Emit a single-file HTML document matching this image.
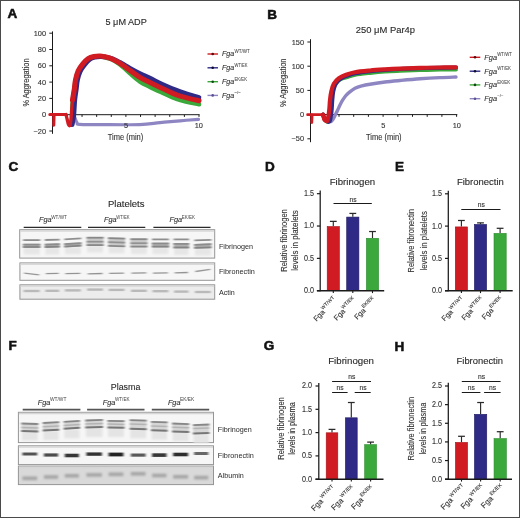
<!DOCTYPE html>
<html><head><meta charset="utf-8"><style>
html,body{margin:0;padding:0;background:#fff;}
svg{display:block;filter:blur(0.3px);}
text{font-family:"Liberation Sans", sans-serif;}
</style></head><body>
<svg width="520" height="518" viewBox="0 0 520 518" font-family='"Liberation Sans", sans-serif' fill="#2a2a2a">
<defs>
<filter id="b1" x="-20%" y="-200%" width="140%" height="500%"><feGaussianBlur stdDeviation="0.55"/></filter>
<filter id="b2" x="-20%" y="-200%" width="140%" height="500%"><feGaussianBlur stdDeviation="1.1"/></filter>
<filter id="b3" x="-20%" y="-200%" width="140%" height="500%"><feGaussianBlur stdDeviation="1.0 0.6"/></filter>
</defs>
<rect x="0" y="0" width="520" height="518" fill="#fff"/>
<text x="7.40" y="18.25" font-size="13.5" font-weight="bold" fill="#111" stroke="#111" stroke-width="0.55">A</text>
<text x="105.50" y="24.80" font-size="8.8" stroke="#2a2a2a" stroke-width="0.12" textLength="41.3" lengthAdjust="spacingAndGlyphs">5 μM ADP</text>
<line x1="52.50" y1="31.40" x2="52.50" y2="133.80" stroke="#1a1a1a" stroke-width="1"/>
<line x1="49.30" y1="131.00" x2="52.50" y2="131.00" stroke="#1a1a1a" stroke-width="1"/>
<text x="46.00" y="133.60" font-size="7.4" text-anchor="end" fill="#333" stroke="#333" stroke-width="0.12">−20</text>
<line x1="49.30" y1="114.70" x2="52.50" y2="114.70" stroke="#1a1a1a" stroke-width="1"/>
<text x="46.00" y="117.30" font-size="7.4" text-anchor="end" fill="#333" stroke="#333" stroke-width="0.12">0</text>
<line x1="49.30" y1="98.40" x2="52.50" y2="98.40" stroke="#1a1a1a" stroke-width="1"/>
<text x="46.00" y="101.00" font-size="7.4" text-anchor="end" fill="#333" stroke="#333" stroke-width="0.12">20</text>
<line x1="49.30" y1="82.10" x2="52.50" y2="82.10" stroke="#1a1a1a" stroke-width="1"/>
<text x="46.00" y="84.70" font-size="7.4" text-anchor="end" fill="#333" stroke="#333" stroke-width="0.12">40</text>
<line x1="49.30" y1="65.80" x2="52.50" y2="65.80" stroke="#1a1a1a" stroke-width="1"/>
<text x="46.00" y="68.40" font-size="7.4" text-anchor="end" fill="#333" stroke="#333" stroke-width="0.12">60</text>
<line x1="49.30" y1="49.50" x2="52.50" y2="49.50" stroke="#1a1a1a" stroke-width="1"/>
<text x="46.00" y="52.10" font-size="7.4" text-anchor="end" fill="#333" stroke="#333" stroke-width="0.12">80</text>
<line x1="49.30" y1="33.20" x2="52.50" y2="33.20" stroke="#1a1a1a" stroke-width="1"/>
<text x="46.00" y="35.80" font-size="7.4" text-anchor="end" fill="#333" stroke="#333" stroke-width="0.12">100</text>
<line x1="52.50" y1="114.70" x2="199.60" y2="114.70" stroke="#1a1a1a" stroke-width="1"/>
<line x1="67.42" y1="114.70" x2="67.42" y2="116.90" stroke="#1a1a1a" stroke-width="1"/>
<line x1="82.04" y1="114.70" x2="82.04" y2="116.90" stroke="#1a1a1a" stroke-width="1"/>
<line x1="96.66" y1="114.70" x2="96.66" y2="116.90" stroke="#1a1a1a" stroke-width="1"/>
<line x1="111.28" y1="114.70" x2="111.28" y2="116.90" stroke="#1a1a1a" stroke-width="1"/>
<line x1="125.90" y1="114.70" x2="125.90" y2="116.90" stroke="#1a1a1a" stroke-width="1"/>
<line x1="140.52" y1="114.70" x2="140.52" y2="116.90" stroke="#1a1a1a" stroke-width="1"/>
<line x1="155.14" y1="114.70" x2="155.14" y2="116.90" stroke="#1a1a1a" stroke-width="1"/>
<line x1="169.76" y1="114.70" x2="169.76" y2="116.90" stroke="#1a1a1a" stroke-width="1"/>
<line x1="184.38" y1="114.70" x2="184.38" y2="116.90" stroke="#1a1a1a" stroke-width="1"/>
<line x1="199.00" y1="114.70" x2="199.00" y2="116.90" stroke="#1a1a1a" stroke-width="1"/>
<text x="125.50" y="140.20" font-size="8.2" text-anchor="middle" fill="#333" stroke="#333" stroke-width="0.12" textLength="35.5" lengthAdjust="spacingAndGlyphs">Time (min)</text>
<text x="28.90" y="82.50" font-size="8.2" text-anchor="middle" fill="#333" stroke="#333" stroke-width="0.12" textLength="48" lengthAdjust="spacingAndGlyphs" transform="rotate(-90 28.90 82.50)">% Aggregation</text>
<path d="M73.60,113.50 C73.87,114.33 74.63,116.98 75.20,118.50 C75.77,120.02 76.28,121.62 77.00,122.60 C77.72,123.58 75.67,124.07 79.50,124.40 C83.33,124.73 89.98,124.57 100.00,124.60 C110.02,124.63 129.60,124.93 139.60,124.60 C149.60,124.27 153.27,123.23 160.00,122.60 C166.73,121.97 173.58,121.35 180.00,120.80 C186.42,120.25 195.42,119.55 198.50,119.30" fill="none" stroke="#8e86c2" stroke-width="3.2" stroke-linejoin="round" stroke-linecap="round"/>
<path d="M72.20,112.00 C72.32,110.00 72.52,103.83 72.90,100.00 C73.28,96.17 74.02,92.33 74.50,89.00 C74.98,85.67 75.13,82.97 75.80,80.00 C76.47,77.03 77.30,73.83 78.50,71.20 C79.70,68.57 81.33,66.23 83.00,64.20 C84.67,62.17 86.67,60.23 88.50,59.00 C90.33,57.77 92.08,57.23 94.00,56.80 C95.92,56.37 98.17,56.35 100.00,56.40 C101.83,56.45 103.33,56.73 105.00,57.10 C106.67,57.47 108.33,57.95 110.00,58.60 C111.67,59.25 113.33,60.03 115.00,61.00 C116.67,61.97 118.33,63.13 120.00,64.40 C121.67,65.67 123.33,67.12 125.00,68.60 C126.67,70.08 127.50,71.13 130.00,73.30 C132.50,75.47 136.67,79.35 140.00,81.60 C143.33,83.85 146.17,84.93 150.00,86.80 C153.83,88.67 158.58,90.80 163.00,92.80 C167.42,94.80 172.33,97.28 176.50,98.80 C180.67,100.32 184.25,101.00 188.00,101.90 C191.75,102.80 197.17,103.82 199.00,104.20" fill="none" stroke="#3aa83a" stroke-width="4.7" stroke-linejoin="round" stroke-linecap="round"/>
<path d="M72.20,124.50 C72.47,122.92 73.37,119.08 73.80,115.00 C74.23,110.92 74.40,104.17 74.80,100.00 C75.20,95.83 75.75,93.33 76.20,90.00 C76.65,86.67 76.83,83.08 77.50,80.00 C78.17,76.92 78.98,74.07 80.20,71.50 C81.42,68.93 83.20,66.63 84.80,64.60 C86.40,62.57 88.10,60.53 89.80,59.30 C91.50,58.07 93.30,57.65 95.00,57.20 C96.70,56.75 98.33,56.63 100.00,56.60 C101.67,56.57 103.33,56.78 105.00,57.00 C106.67,57.22 108.33,57.43 110.00,57.90 C111.67,58.37 113.33,59.05 115.00,59.80 C116.67,60.55 118.33,61.48 120.00,62.40 C121.67,63.32 123.33,64.32 125.00,65.30 C126.67,66.28 127.50,66.92 130.00,68.30 C132.50,69.68 136.67,71.95 140.00,73.60 C143.33,75.25 146.17,76.37 150.00,78.20 C153.83,80.03 158.58,82.58 163.00,84.60 C167.42,86.62 172.33,88.70 176.50,90.30 C180.67,91.90 184.25,92.98 188.00,94.20 C191.75,95.42 197.17,97.03 199.00,97.60" fill="none" stroke="#2f2a86" stroke-width="4.7" stroke-linejoin="round" stroke-linecap="round"/>
<path d="M70.50,124.00 C70.78,124.17 71.68,126.00 72.20,125.00 C72.72,124.00 73.25,120.17 73.60,118.00 C73.95,115.83 74.18,113.00 74.30,112.00" fill="none" stroke="#2f2a86" stroke-width="3.2" stroke-linejoin="round" stroke-linecap="round"/>
<path d="M72.50,100.00 C72.78,98.33 73.70,93.33 74.20,90.00 C74.70,86.67 74.83,83.20 75.50,80.00 C76.17,76.80 76.98,73.50 78.20,70.80 C79.42,68.10 81.13,65.83 82.80,63.80 C84.47,61.77 86.33,59.82 88.20,58.60 C90.07,57.38 92.03,56.93 94.00,56.50 C95.97,56.07 98.17,55.95 100.00,56.00 C101.83,56.05 103.33,56.43 105.00,56.80 C106.67,57.17 108.33,57.60 110.00,58.20 C111.67,58.80 113.33,59.55 115.00,60.40 C116.67,61.25 118.33,62.23 120.00,63.30 C121.67,64.37 123.33,65.62 125.00,66.80 C126.67,67.98 127.50,68.63 130.00,70.40 C132.50,72.17 136.67,75.38 140.00,77.40 C143.33,79.42 146.17,80.60 150.00,82.50 C153.83,84.40 158.58,86.73 163.00,88.80 C167.42,90.87 172.33,93.35 176.50,94.90 C180.67,96.45 184.25,97.13 188.00,98.10 C191.75,99.07 197.17,100.27 199.00,100.70" fill="none" stroke="#d01b22" stroke-width="5.1" stroke-linejoin="round" stroke-linecap="round"/>
<path d="M66.00,114.50 C66.20,115.33 66.80,117.85 67.20,119.50 C67.60,121.15 67.90,123.48 68.40,124.40 C68.90,125.32 69.72,126.57 70.20,125.00 C70.68,123.43 71.00,118.17 71.30,115.00 C71.60,111.83 71.77,108.75 72.00,106.00 C72.23,103.25 72.58,99.75 72.70,98.50" fill="none" stroke="#d01b22" stroke-width="3.3" stroke-linejoin="round" stroke-linecap="round"/>
<path d="M49.80,114.50 L53.80,114.50 L53.80,125.20 L54.10,114.50 L66.00,114.50" fill="none" stroke="#d01b22" stroke-width="3.0" stroke-linejoin="round" stroke-linecap="round"/>
<text x="126.00" y="127.80" font-size="7.4" text-anchor="middle" fill="#333" stroke="#333" stroke-width="0.12">5</text>
<text x="198.80" y="127.80" font-size="7.4" text-anchor="middle" fill="#333" stroke="#333" stroke-width="0.12">10</text>
<line x1="207.50" y1="54.00" x2="218.00" y2="54.00" stroke="#d01b22" stroke-width="1.4"/>
<circle cx="212.7" cy="54.0" r="1.3" fill="#5a0808"/>
<text x="222.00" y="56.30" font-size="7.1" font-style="italic" fill="#333" stroke="#333" stroke-width="0.12">Fga</text>
<text x="234.50" y="52.80" font-size="4.9" fill="#444" stroke="#444" stroke-width="0.05" textLength="15.3" lengthAdjust="spacingAndGlyphs">WT/WT</text>
<line x1="207.50" y1="67.80" x2="218.00" y2="67.80" stroke="#2f2a86" stroke-width="1.4"/>
<circle cx="212.7" cy="67.8" r="1.3" fill="#0c0c30"/>
<text x="222.00" y="70.10" font-size="7.1" font-style="italic" fill="#333" stroke="#333" stroke-width="0.12">Fga</text>
<text x="234.50" y="66.60" font-size="4.9" fill="#444" stroke="#444" stroke-width="0.05" textLength="13.1" lengthAdjust="spacingAndGlyphs">WT/EK</text>
<line x1="207.50" y1="81.70" x2="218.00" y2="81.70" stroke="#3aa83a" stroke-width="1.4"/>
<circle cx="212.7" cy="81.7" r="1.3" fill="#124812"/>
<text x="222.00" y="84.00" font-size="7.1" font-style="italic" fill="#333" stroke="#333" stroke-width="0.12">Fga</text>
<text x="234.50" y="80.50" font-size="4.9" fill="#444" stroke="#444" stroke-width="0.05" textLength="12.5" lengthAdjust="spacingAndGlyphs">EK/EK</text>
<line x1="207.50" y1="95.40" x2="218.00" y2="95.40" stroke="#8e86c2" stroke-width="1.4"/>
<circle cx="212.7" cy="95.4" r="1.3" fill="#5a5290"/>
<text x="222.00" y="97.70" font-size="7.1" font-style="italic" fill="#333" stroke="#333" stroke-width="0.12">Fga</text>
<text x="234.50" y="94.20" font-size="4.4" fill="#444" stroke="#444" stroke-width="0.05">−/−</text>
<text x="267.20" y="18.55" font-size="13.5" font-weight="bold" fill="#111" stroke="#111" stroke-width="0.55">B</text>
<text x="355.80" y="32.70" font-size="9.0" stroke="#2a2a2a" stroke-width="0.12" textLength="59.2" lengthAdjust="spacingAndGlyphs">250 μM Par4p</text>
<line x1="310.50" y1="39.20" x2="310.50" y2="142.20" stroke="#1a1a1a" stroke-width="1"/>
<line x1="307.40" y1="138.80" x2="310.50" y2="138.80" stroke="#1a1a1a" stroke-width="1"/>
<text x="304.00" y="141.40" font-size="7.4" text-anchor="end" fill="#333" stroke="#333" stroke-width="0.12">−50</text>
<line x1="307.40" y1="114.60" x2="310.50" y2="114.60" stroke="#1a1a1a" stroke-width="1"/>
<text x="304.00" y="117.20" font-size="7.4" text-anchor="end" fill="#333" stroke="#333" stroke-width="0.12">0</text>
<line x1="307.40" y1="90.40" x2="310.50" y2="90.40" stroke="#1a1a1a" stroke-width="1"/>
<text x="304.00" y="93.00" font-size="7.4" text-anchor="end" fill="#333" stroke="#333" stroke-width="0.12">50</text>
<line x1="307.40" y1="66.20" x2="310.50" y2="66.20" stroke="#1a1a1a" stroke-width="1"/>
<text x="304.00" y="68.80" font-size="7.4" text-anchor="end" fill="#333" stroke="#333" stroke-width="0.12">100</text>
<line x1="307.40" y1="42.00" x2="310.50" y2="42.00" stroke="#1a1a1a" stroke-width="1"/>
<text x="304.00" y="44.60" font-size="7.4" text-anchor="end" fill="#333" stroke="#333" stroke-width="0.12">150</text>
<line x1="310.50" y1="114.60" x2="457.30" y2="114.60" stroke="#1a1a1a" stroke-width="1"/>
<line x1="324.30" y1="114.60" x2="324.30" y2="116.80" stroke="#1a1a1a" stroke-width="1"/>
<line x1="339.00" y1="114.60" x2="339.00" y2="116.80" stroke="#1a1a1a" stroke-width="1"/>
<line x1="353.70" y1="114.60" x2="353.70" y2="116.80" stroke="#1a1a1a" stroke-width="1"/>
<line x1="368.40" y1="114.60" x2="368.40" y2="116.80" stroke="#1a1a1a" stroke-width="1"/>
<line x1="383.10" y1="114.60" x2="383.10" y2="116.80" stroke="#1a1a1a" stroke-width="1"/>
<line x1="397.80" y1="114.60" x2="397.80" y2="116.80" stroke="#1a1a1a" stroke-width="1"/>
<line x1="412.50" y1="114.60" x2="412.50" y2="116.80" stroke="#1a1a1a" stroke-width="1"/>
<line x1="427.20" y1="114.60" x2="427.20" y2="116.80" stroke="#1a1a1a" stroke-width="1"/>
<line x1="441.90" y1="114.60" x2="441.90" y2="116.80" stroke="#1a1a1a" stroke-width="1"/>
<line x1="456.60" y1="114.60" x2="456.60" y2="116.80" stroke="#1a1a1a" stroke-width="1"/>
<text x="383.30" y="127.80" font-size="7.4" text-anchor="middle" fill="#333" stroke="#333" stroke-width="0.12">5</text>
<text x="456.80" y="127.80" font-size="7.4" text-anchor="middle" fill="#333" stroke="#333" stroke-width="0.12">10</text>
<text x="383.80" y="140.20" font-size="8.2" text-anchor="middle" fill="#333" stroke="#333" stroke-width="0.12" textLength="35.5" lengthAdjust="spacingAndGlyphs">Time (min)</text>
<text x="286.20" y="82.80" font-size="8.2" text-anchor="middle" fill="#333" stroke="#333" stroke-width="0.12" textLength="48.5" lengthAdjust="spacingAndGlyphs" transform="rotate(-90 286.20 82.80)">% Aggregation</text>
<path d="M328.00,120.50 C328.50,120.67 330.13,121.75 331.00,121.50 C331.87,121.25 332.45,120.17 333.20,119.00 C333.95,117.83 334.77,115.97 335.50,114.50 C336.23,113.03 336.85,111.78 337.60,110.20 C338.35,108.62 339.17,106.67 340.00,105.00 C340.83,103.33 341.68,101.70 342.60,100.20 C343.52,98.70 344.45,97.27 345.50,96.00 C346.55,94.73 347.32,93.90 348.90,92.60 C350.48,91.30 352.82,89.33 355.00,88.20 C357.18,87.07 359.50,86.47 362.00,85.80 C364.50,85.13 366.17,84.83 370.00,84.20 C373.83,83.57 380.00,82.62 385.00,82.00 C390.00,81.38 394.17,81.03 400.00,80.50 C405.83,79.97 413.33,79.28 420.00,78.80 C426.67,78.32 434.00,77.90 440.00,77.60 C446.00,77.30 453.33,77.10 456.00,77.00" fill="none" stroke="#8e86c2" stroke-width="3.4" stroke-linejoin="round" stroke-linecap="round"/>
<path d="M323.00,114.60 C323.33,115.42 324.17,118.35 325.00,119.50 C325.83,120.65 327.08,122.75 328.00,121.50 C328.92,120.25 329.92,115.58 330.50,112.00 C331.08,108.42 331.17,103.33 331.50,100.00 C331.83,96.67 332.05,94.33 332.50,92.00 C332.95,89.67 333.45,87.67 334.20,86.00 C334.95,84.33 335.87,83.17 337.00,82.00 C338.13,80.83 339.43,79.78 341.00,79.00 C342.57,78.22 344.07,78.00 346.40,77.30 C348.73,76.60 351.07,75.53 355.00,74.80 C358.93,74.07 365.00,73.45 370.00,72.90 C375.00,72.35 380.00,71.85 385.00,71.50 C390.00,71.15 394.17,71.03 400.00,70.80 C405.83,70.57 413.33,70.30 420.00,70.10 C426.67,69.90 434.00,69.70 440.00,69.60 C446.00,69.50 453.33,69.52 456.00,69.50" fill="none" stroke="#3aa83a" stroke-width="4.0" stroke-linejoin="round" stroke-linecap="round"/>
<path d="M323.00,114.60 C323.33,115.42 323.92,118.35 325.00,119.50 C326.08,120.65 328.42,122.75 329.50,121.50 C330.58,120.25 331.03,115.58 331.50,112.00 C331.97,108.42 332.02,103.33 332.30,100.00 C332.58,96.67 332.78,94.33 333.20,92.00 C333.62,89.67 334.08,87.75 334.80,86.00 C335.52,84.25 336.47,82.73 337.50,81.50 C338.53,80.27 339.52,79.52 341.00,78.60 C342.48,77.68 344.07,76.87 346.40,76.00 C348.73,75.13 351.07,74.20 355.00,73.40 C358.93,72.60 365.00,71.77 370.00,71.20 C375.00,70.63 380.00,70.37 385.00,70.00 C390.00,69.63 394.17,69.28 400.00,69.00 C405.83,68.72 413.33,68.50 420.00,68.30 C426.67,68.10 434.00,67.93 440.00,67.80 C446.00,67.67 453.33,67.55 456.00,67.50" fill="none" stroke="#2f2a86" stroke-width="4.0" stroke-linejoin="round" stroke-linecap="round"/>
<path d="M323.00,114.60 C323.25,115.42 323.75,118.52 324.50,119.50 C325.25,120.48 326.72,122.05 327.50,120.50 C328.28,118.95 328.78,113.62 329.20,110.20 C329.62,106.78 329.65,103.13 330.00,100.00 C330.35,96.87 330.67,94.10 331.30,91.40 C331.93,88.70 332.53,86.00 333.80,83.80 C335.07,81.60 336.80,79.72 338.90,78.20 C341.00,76.68 343.72,75.70 346.40,74.70 C349.08,73.70 351.07,72.90 355.00,72.20 C358.93,71.50 365.00,70.97 370.00,70.50 C375.00,70.03 380.00,69.72 385.00,69.40 C390.00,69.08 394.17,68.85 400.00,68.60 C405.83,68.35 413.33,68.08 420.00,67.90 C426.67,67.72 434.00,67.60 440.00,67.50 C446.00,67.40 453.33,67.33 456.00,67.30" fill="none" stroke="#d01b22" stroke-width="4.2" stroke-linejoin="round" stroke-linecap="round"/>
<path d="M307.60,114.70 L311.80,114.70 L311.80,122.50 L312.10,114.70 L323.50,114.70" fill="none" stroke="#d01b22" stroke-width="2.8" stroke-linejoin="round" stroke-linecap="round"/>
<ellipse cx="325.6" cy="119.3" rx="3.2" ry="2.8" fill="#d01b22"/>
<line x1="469.70" y1="57.30" x2="480.30" y2="57.30" stroke="#d01b22" stroke-width="1.4"/>
<circle cx="475" cy="57.3" r="1.3" fill="#5a0808"/>
<text x="484.30" y="59.60" font-size="7.4" font-style="italic" fill="#333" stroke="#333" stroke-width="0.12">Fga</text>
<text x="497.20" y="55.90" font-size="4.8" fill="#444" stroke="#444" stroke-width="0.05" textLength="14.8" lengthAdjust="spacingAndGlyphs">WT/WT</text>
<line x1="469.70" y1="71.20" x2="480.30" y2="71.20" stroke="#2f2a86" stroke-width="1.4"/>
<circle cx="475" cy="71.2" r="1.3" fill="#0c0c30"/>
<text x="484.30" y="73.50" font-size="7.4" font-style="italic" fill="#333" stroke="#333" stroke-width="0.12">Fga</text>
<text x="497.20" y="69.80" font-size="4.8" fill="#444" stroke="#444" stroke-width="0.05" textLength="13.8" lengthAdjust="spacingAndGlyphs">WT/EK</text>
<line x1="469.70" y1="84.90" x2="480.30" y2="84.90" stroke="#3aa83a" stroke-width="1.4"/>
<circle cx="475" cy="84.9" r="1.3" fill="#124812"/>
<text x="484.30" y="87.20" font-size="7.4" font-style="italic" fill="#333" stroke="#333" stroke-width="0.12">Fga</text>
<text x="497.20" y="83.50" font-size="4.8" fill="#444" stroke="#444" stroke-width="0.05" textLength="13.0" lengthAdjust="spacingAndGlyphs">EK/EK</text>
<line x1="469.70" y1="98.70" x2="480.30" y2="98.70" stroke="#8e86c2" stroke-width="1.4"/>
<circle cx="475" cy="98.7" r="1.3" fill="#5a5290"/>
<text x="484.30" y="101.00" font-size="7.4" font-style="italic" fill="#333" stroke="#333" stroke-width="0.12">Fga</text>
<text x="497.20" y="97.30" font-size="4.3" fill="#444" stroke="#444" stroke-width="0.05">−/−</text>
<text x="265.00" y="170.55" font-size="13.5" font-weight="bold" fill="#111" stroke="#111" stroke-width="0.55">D</text>
<line x1="320.20" y1="190.50" x2="320.20" y2="291.30" stroke="#1a1a1a" stroke-width="1.25"/>
<line x1="316.90" y1="290.70" x2="320.20" y2="290.70" stroke="#1a1a1a" stroke-width="1.2"/>
<text x="314.00" y="293.10" font-size="8.2" text-anchor="end" fill="#333" stroke="#333" stroke-width="0.12" textLength="10.0" lengthAdjust="spacingAndGlyphs">0.0</text>
<line x1="316.90" y1="258.37" x2="320.20" y2="258.37" stroke="#1a1a1a" stroke-width="1.2"/>
<text x="314.00" y="260.76" font-size="8.2" text-anchor="end" fill="#333" stroke="#333" stroke-width="0.12" textLength="10.0" lengthAdjust="spacingAndGlyphs">0.5</text>
<line x1="316.90" y1="226.03" x2="320.20" y2="226.03" stroke="#1a1a1a" stroke-width="1.2"/>
<text x="314.00" y="228.43" font-size="8.2" text-anchor="end" fill="#333" stroke="#333" stroke-width="0.12" textLength="10.0" lengthAdjust="spacingAndGlyphs">1.0</text>
<line x1="316.90" y1="193.69" x2="320.20" y2="193.69" stroke="#1a1a1a" stroke-width="1.2"/>
<text x="314.00" y="196.09" font-size="8.2" text-anchor="end" fill="#333" stroke="#333" stroke-width="0.12" textLength="10.0" lengthAdjust="spacingAndGlyphs">1.5</text>
<line x1="333.30" y1="226.29" x2="333.30" y2="221.37" stroke="#2a2a2a" stroke-width="1.15"/>
<line x1="329.90" y1="221.37" x2="336.70" y2="221.37" stroke="#2a2a2a" stroke-width="1.25"/>
<rect x="327.20" y="226.59" width="12.20" height="64.11" fill="#d01b22" stroke="#a51218" stroke-width="0.6"/>
<line x1="333.30" y1="290.70" x2="333.30" y2="293.10" stroke="#1a1a1a" stroke-width="1.1"/>
<line x1="352.80" y1="216.78" x2="352.80" y2="213.42" stroke="#2a2a2a" stroke-width="1.15"/>
<line x1="349.40" y1="213.42" x2="356.20" y2="213.42" stroke="#2a2a2a" stroke-width="1.25"/>
<rect x="346.70" y="217.08" width="12.20" height="73.62" fill="#2f2a86" stroke="#1f1b62" stroke-width="0.6"/>
<line x1="352.80" y1="290.70" x2="352.80" y2="293.10" stroke="#1a1a1a" stroke-width="1.1"/>
<line x1="372.50" y1="237.99" x2="372.50" y2="231.53" stroke="#2a2a2a" stroke-width="1.15"/>
<line x1="369.10" y1="231.53" x2="375.90" y2="231.53" stroke="#2a2a2a" stroke-width="1.25"/>
<rect x="366.40" y="238.29" width="12.20" height="52.41" fill="#3aa83a" stroke="#2c8a2c" stroke-width="0.6"/>
<line x1="372.50" y1="290.70" x2="372.50" y2="293.10" stroke="#1a1a1a" stroke-width="1.1"/>
<line x1="316.90" y1="290.70" x2="384.20" y2="290.70" stroke="#1a1a1a" stroke-width="1.35"/>
<line x1="333.50" y1="203.50" x2="371.80" y2="203.50" stroke="#1a1a1a" stroke-width="1.0"/>
<text x="352.95" y="201.60" font-size="6.7" text-anchor="middle" fill="#333" stroke="#333" stroke-width="0.12">ns</text>
<text x="329.70" y="184.80" font-size="9.4" stroke="#2a2a2a" stroke-width="0.12" textLength="45.5" lengthAdjust="spacingAndGlyphs">Fibrinogen</text>
<text x="286.70" y="240.50" font-size="9.6" text-anchor="middle" fill="#333" stroke="#333" stroke-width="0.12" textLength="62.6" lengthAdjust="spacingAndGlyphs" transform="rotate(-90 286.70 240.50)">Relative fibrinogen</text>
<text x="298.00" y="240.50" font-size="9.6" text-anchor="middle" fill="#333" stroke="#333" stroke-width="0.12" textLength="60.5" lengthAdjust="spacingAndGlyphs" transform="rotate(-90 298.00 240.50)">levels in platelets</text>
<g transform="translate(337.40,300.70) rotate(-45)"><text x="0" y="-3.9" font-size="5" text-anchor="end" fill="#333" stroke="#333" stroke-width="0.12">WT/WT</text><text x="-16.93" y="0" font-size="7.4" text-anchor="end" fill="#333" stroke="#333" stroke-width="0.12">Fga</text></g>
<g transform="translate(356.90,300.70) rotate(-45)"><text x="0" y="-3.9" font-size="5" text-anchor="end" fill="#333" stroke="#333" stroke-width="0.12">WT/EK</text><text x="-15.83" y="0" font-size="7.4" text-anchor="end" fill="#333" stroke="#333" stroke-width="0.12">Fga</text></g>
<g transform="translate(376.60,300.70) rotate(-45)"><text x="0" y="-3.9" font-size="5" text-anchor="end" fill="#333" stroke="#333" stroke-width="0.12">EK/EK</text><text x="-14.73" y="0" font-size="7.4" text-anchor="end" fill="#333" stroke="#333" stroke-width="0.12">Fga</text></g>
<text x="395.00" y="170.75" font-size="13.5" font-weight="bold" fill="#111" stroke="#111" stroke-width="0.55">E</text>
<line x1="448.30" y1="190.80" x2="448.30" y2="291.30" stroke="#1a1a1a" stroke-width="1.25"/>
<line x1="445.00" y1="290.70" x2="448.30" y2="290.70" stroke="#1a1a1a" stroke-width="1.2"/>
<text x="442.00" y="293.10" font-size="8.2" text-anchor="end" fill="#333" stroke="#333" stroke-width="0.12" textLength="10.0" lengthAdjust="spacingAndGlyphs">0.0</text>
<line x1="445.00" y1="258.40" x2="448.30" y2="258.40" stroke="#1a1a1a" stroke-width="1.2"/>
<text x="442.00" y="260.80" font-size="8.2" text-anchor="end" fill="#333" stroke="#333" stroke-width="0.12" textLength="10.0" lengthAdjust="spacingAndGlyphs">0.5</text>
<line x1="445.00" y1="226.10" x2="448.30" y2="226.10" stroke="#1a1a1a" stroke-width="1.2"/>
<text x="442.00" y="228.50" font-size="8.2" text-anchor="end" fill="#333" stroke="#333" stroke-width="0.12" textLength="10.0" lengthAdjust="spacingAndGlyphs">1.0</text>
<line x1="445.00" y1="193.80" x2="448.30" y2="193.80" stroke="#1a1a1a" stroke-width="1.2"/>
<text x="442.00" y="196.20" font-size="8.2" text-anchor="end" fill="#333" stroke="#333" stroke-width="0.12" textLength="10.0" lengthAdjust="spacingAndGlyphs">1.5</text>
<line x1="461.40" y1="226.62" x2="461.40" y2="220.48" stroke="#2a2a2a" stroke-width="1.15"/>
<line x1="458.00" y1="220.48" x2="464.80" y2="220.48" stroke="#2a2a2a" stroke-width="1.25"/>
<rect x="455.30" y="226.92" width="12.20" height="63.78" fill="#d01b22" stroke="#a51218" stroke-width="0.6"/>
<line x1="461.40" y1="290.70" x2="461.40" y2="293.10" stroke="#1a1a1a" stroke-width="1.1"/>
<line x1="480.50" y1="224.16" x2="480.50" y2="222.87" stroke="#2a2a2a" stroke-width="1.15"/>
<line x1="477.10" y1="222.87" x2="483.90" y2="222.87" stroke="#2a2a2a" stroke-width="1.25"/>
<rect x="474.40" y="224.46" width="12.20" height="66.24" fill="#2f2a86" stroke="#1f1b62" stroke-width="0.6"/>
<line x1="480.50" y1="290.70" x2="480.50" y2="293.10" stroke="#1a1a1a" stroke-width="1.1"/>
<line x1="500.10" y1="233.08" x2="500.10" y2="228.30" stroke="#2a2a2a" stroke-width="1.15"/>
<line x1="496.70" y1="228.30" x2="503.50" y2="228.30" stroke="#2a2a2a" stroke-width="1.25"/>
<rect x="494.00" y="233.38" width="12.20" height="57.32" fill="#3aa83a" stroke="#2c8a2c" stroke-width="0.6"/>
<line x1="500.10" y1="290.70" x2="500.10" y2="293.10" stroke="#1a1a1a" stroke-width="1.1"/>
<line x1="445.00" y1="290.70" x2="512.70" y2="290.70" stroke="#1a1a1a" stroke-width="1.35"/>
<line x1="461.30" y1="209.50" x2="500.50" y2="209.50" stroke="#1a1a1a" stroke-width="1.0"/>
<text x="481.20" y="207.00" font-size="6.7" text-anchor="middle" fill="#333" stroke="#333" stroke-width="0.12">ns</text>
<text x="456.90" y="185.10" font-size="9.4" stroke="#2a2a2a" stroke-width="0.12" textLength="47" lengthAdjust="spacingAndGlyphs">Fibronectin</text>
<text x="414.20" y="240.80" font-size="9.6" text-anchor="middle" fill="#333" stroke="#333" stroke-width="0.12" textLength="63.3" lengthAdjust="spacingAndGlyphs" transform="rotate(-90 414.20 240.80)">Relative fibronectin</text>
<text x="426.60" y="240.80" font-size="9.6" text-anchor="middle" fill="#333" stroke="#333" stroke-width="0.12" textLength="59.5" lengthAdjust="spacingAndGlyphs" transform="rotate(-90 426.60 240.80)">levels in platelets</text>
<g transform="translate(465.50,300.50) rotate(-45)"><text x="0" y="-3.9" font-size="5" text-anchor="end" fill="#333" stroke="#333" stroke-width="0.12">WT/WT</text><text x="-16.93" y="0" font-size="7.4" text-anchor="end" fill="#333" stroke="#333" stroke-width="0.12">Fga</text></g>
<g transform="translate(484.60,300.50) rotate(-45)"><text x="0" y="-3.9" font-size="5" text-anchor="end" fill="#333" stroke="#333" stroke-width="0.12">WT/EK</text><text x="-15.83" y="0" font-size="7.4" text-anchor="end" fill="#333" stroke="#333" stroke-width="0.12">Fga</text></g>
<g transform="translate(504.20,300.50) rotate(-45)"><text x="0" y="-3.9" font-size="5" text-anchor="end" fill="#333" stroke="#333" stroke-width="0.12">EK/EK</text><text x="-14.73" y="0" font-size="7.4" text-anchor="end" fill="#333" stroke="#333" stroke-width="0.12">Fga</text></g>
<text x="263.80" y="350.45" font-size="13.5" font-weight="bold" fill="#111" stroke="#111" stroke-width="0.55">G</text>
<line x1="318.80" y1="383.10" x2="318.80" y2="479.80" stroke="#1a1a1a" stroke-width="1.25"/>
<line x1="315.50" y1="479.20" x2="318.80" y2="479.20" stroke="#1a1a1a" stroke-width="1.2"/>
<text x="312.10" y="481.60" font-size="8.2" text-anchor="end" fill="#333" stroke="#333" stroke-width="0.12" textLength="10.0" lengthAdjust="spacingAndGlyphs">0.0</text>
<line x1="315.50" y1="455.90" x2="318.80" y2="455.90" stroke="#1a1a1a" stroke-width="1.2"/>
<text x="312.10" y="458.30" font-size="8.2" text-anchor="end" fill="#333" stroke="#333" stroke-width="0.12" textLength="10.0" lengthAdjust="spacingAndGlyphs">0.5</text>
<line x1="315.50" y1="432.60" x2="318.80" y2="432.60" stroke="#1a1a1a" stroke-width="1.2"/>
<text x="312.10" y="435.00" font-size="8.2" text-anchor="end" fill="#333" stroke="#333" stroke-width="0.12" textLength="10.0" lengthAdjust="spacingAndGlyphs">1.0</text>
<line x1="315.50" y1="409.30" x2="318.80" y2="409.30" stroke="#1a1a1a" stroke-width="1.2"/>
<text x="312.10" y="411.70" font-size="8.2" text-anchor="end" fill="#333" stroke="#333" stroke-width="0.12" textLength="10.0" lengthAdjust="spacingAndGlyphs">1.5</text>
<line x1="315.50" y1="386.00" x2="318.80" y2="386.00" stroke="#1a1a1a" stroke-width="1.2"/>
<text x="312.10" y="388.40" font-size="8.2" text-anchor="end" fill="#333" stroke="#333" stroke-width="0.12" textLength="10.0" lengthAdjust="spacingAndGlyphs">2.0</text>
<line x1="332.00" y1="432.51" x2="332.00" y2="429.38" stroke="#2a2a2a" stroke-width="1.15"/>
<line x1="328.60" y1="429.38" x2="335.40" y2="429.38" stroke="#2a2a2a" stroke-width="1.25"/>
<rect x="326.20" y="432.81" width="11.60" height="46.39" fill="#d01b22" stroke="#a51218" stroke-width="0.6"/>
<line x1="332.00" y1="479.20" x2="332.00" y2="481.60" stroke="#1a1a1a" stroke-width="1.1"/>
<line x1="351.30" y1="417.50" x2="351.30" y2="402.50" stroke="#2a2a2a" stroke-width="1.15"/>
<line x1="347.90" y1="402.50" x2="354.70" y2="402.50" stroke="#2a2a2a" stroke-width="1.25"/>
<rect x="345.40" y="417.80" width="11.80" height="61.40" fill="#2f2a86" stroke="#1f1b62" stroke-width="0.6"/>
<line x1="351.30" y1="479.20" x2="351.30" y2="481.60" stroke="#1a1a1a" stroke-width="1.1"/>
<line x1="370.60" y1="444.39" x2="370.60" y2="442.11" stroke="#2a2a2a" stroke-width="1.15"/>
<line x1="367.20" y1="442.11" x2="374.00" y2="442.11" stroke="#2a2a2a" stroke-width="1.25"/>
<rect x="364.70" y="444.69" width="11.80" height="34.51" fill="#3aa83a" stroke="#2c8a2c" stroke-width="0.6"/>
<line x1="370.60" y1="479.20" x2="370.60" y2="481.60" stroke="#1a1a1a" stroke-width="1.1"/>
<line x1="315.50" y1="479.20" x2="383.50" y2="479.20" stroke="#1a1a1a" stroke-width="1.35"/>
<line x1="332.10" y1="381.50" x2="371.00" y2="381.50" stroke="#1a1a1a" stroke-width="1.0"/>
<text x="351.85" y="379.00" font-size="6.7" text-anchor="middle" fill="#333" stroke="#333" stroke-width="0.12">ns</text>
<line x1="332.10" y1="392.50" x2="347.60" y2="392.50" stroke="#1a1a1a" stroke-width="1.0"/>
<text x="340.15" y="389.90" font-size="6.7" text-anchor="middle" fill="#333" stroke="#333" stroke-width="0.12">ns</text>
<line x1="354.70" y1="392.50" x2="370.70" y2="392.50" stroke="#1a1a1a" stroke-width="1.0"/>
<text x="363.00" y="389.90" font-size="6.7" text-anchor="middle" fill="#333" stroke="#333" stroke-width="0.12">ns</text>
<text x="328.20" y="363.90" font-size="9.4" stroke="#2a2a2a" stroke-width="0.12" textLength="45.8" lengthAdjust="spacingAndGlyphs">Fibrinogen</text>
<text x="284.30" y="428.50" font-size="9.6" text-anchor="middle" fill="#333" stroke="#333" stroke-width="0.12" textLength="62.6" lengthAdjust="spacingAndGlyphs" transform="rotate(-90 284.30 428.50)">Relative fibrinogen</text>
<text x="295.30" y="428.50" font-size="9.6" text-anchor="middle" fill="#333" stroke="#333" stroke-width="0.12" textLength="52.5" lengthAdjust="spacingAndGlyphs" transform="rotate(-90 295.30 428.50)">levels in plasma</text>
<g transform="translate(336.30,489.30) rotate(-45)"><text x="0" y="-3.8" font-size="5" text-anchor="end" fill="#333" stroke="#333" stroke-width="0.12">WT/WT</text><text x="-17.93" y="0" font-size="7.8" text-anchor="end" fill="#333" stroke="#333" stroke-width="0.12">Fga</text></g>
<g transform="translate(355.60,489.30) rotate(-45)"><text x="0" y="-3.8" font-size="5" text-anchor="end" fill="#333" stroke="#333" stroke-width="0.12">WT/EK</text><text x="-16.84" y="0" font-size="7.8" text-anchor="end" fill="#333" stroke="#333" stroke-width="0.12">Fga</text></g>
<g transform="translate(374.90,489.30) rotate(-45)"><text x="0" y="-3.8" font-size="5" text-anchor="end" fill="#333" stroke="#333" stroke-width="0.12">EK/EK</text><text x="-15.73" y="0" font-size="7.8" text-anchor="end" fill="#333" stroke="#333" stroke-width="0.12">Fga</text></g>
<text x="394.60" y="350.65" font-size="13.5" font-weight="bold" fill="#111" stroke="#111" stroke-width="0.55">H</text>
<line x1="448.30" y1="382.80" x2="448.30" y2="479.80" stroke="#1a1a1a" stroke-width="1.25"/>
<line x1="445.00" y1="479.20" x2="448.30" y2="479.20" stroke="#1a1a1a" stroke-width="1.2"/>
<text x="442.00" y="481.60" font-size="8.2" text-anchor="end" fill="#333" stroke="#333" stroke-width="0.12" textLength="10.0" lengthAdjust="spacingAndGlyphs">0.0</text>
<line x1="445.00" y1="460.56" x2="448.30" y2="460.56" stroke="#1a1a1a" stroke-width="1.2"/>
<text x="442.00" y="462.96" font-size="8.2" text-anchor="end" fill="#333" stroke="#333" stroke-width="0.12" textLength="10.0" lengthAdjust="spacingAndGlyphs">0.5</text>
<line x1="445.00" y1="441.92" x2="448.30" y2="441.92" stroke="#1a1a1a" stroke-width="1.2"/>
<text x="442.00" y="444.32" font-size="8.2" text-anchor="end" fill="#333" stroke="#333" stroke-width="0.12" textLength="10.0" lengthAdjust="spacingAndGlyphs">1.0</text>
<line x1="445.00" y1="423.28" x2="448.30" y2="423.28" stroke="#1a1a1a" stroke-width="1.2"/>
<text x="442.00" y="425.68" font-size="8.2" text-anchor="end" fill="#333" stroke="#333" stroke-width="0.12" textLength="10.0" lengthAdjust="spacingAndGlyphs">1.5</text>
<line x1="445.00" y1="404.64" x2="448.30" y2="404.64" stroke="#1a1a1a" stroke-width="1.2"/>
<text x="442.00" y="407.04" font-size="8.2" text-anchor="end" fill="#333" stroke="#333" stroke-width="0.12" textLength="10.0" lengthAdjust="spacingAndGlyphs">2.0</text>
<line x1="445.00" y1="386.00" x2="448.30" y2="386.00" stroke="#1a1a1a" stroke-width="1.2"/>
<text x="442.00" y="388.40" font-size="8.2" text-anchor="end" fill="#333" stroke="#333" stroke-width="0.12" textLength="10.0" lengthAdjust="spacingAndGlyphs">2.5</text>
<line x1="461.50" y1="442.11" x2="461.50" y2="436.29" stroke="#2a2a2a" stroke-width="1.15"/>
<line x1="458.10" y1="436.29" x2="464.90" y2="436.29" stroke="#2a2a2a" stroke-width="1.25"/>
<rect x="455.45" y="442.41" width="12.10" height="36.79" fill="#d01b22" stroke="#a51218" stroke-width="0.6"/>
<line x1="461.50" y1="479.20" x2="461.50" y2="481.60" stroke="#1a1a1a" stroke-width="1.1"/>
<line x1="480.60" y1="414.00" x2="480.60" y2="402.52" stroke="#2a2a2a" stroke-width="1.15"/>
<line x1="477.20" y1="402.52" x2="484.00" y2="402.52" stroke="#2a2a2a" stroke-width="1.25"/>
<rect x="474.45" y="414.30" width="12.30" height="64.90" fill="#2f2a86" stroke="#1f1b62" stroke-width="0.6"/>
<line x1="480.60" y1="479.20" x2="480.60" y2="481.60" stroke="#1a1a1a" stroke-width="1.1"/>
<line x1="500.20" y1="438.30" x2="500.20" y2="431.71" stroke="#2a2a2a" stroke-width="1.15"/>
<line x1="496.80" y1="431.71" x2="503.60" y2="431.71" stroke="#2a2a2a" stroke-width="1.25"/>
<rect x="494.05" y="438.60" width="12.30" height="40.60" fill="#3aa83a" stroke="#2c8a2c" stroke-width="0.6"/>
<line x1="500.20" y1="479.20" x2="500.20" y2="481.60" stroke="#1a1a1a" stroke-width="1.1"/>
<line x1="445.00" y1="479.20" x2="512.00" y2="479.20" stroke="#1a1a1a" stroke-width="1.35"/>
<line x1="461.80" y1="381.50" x2="500.60" y2="381.50" stroke="#1a1a1a" stroke-width="1.0"/>
<text x="481.50" y="379.20" font-size="6.7" text-anchor="middle" fill="#333" stroke="#333" stroke-width="0.12">ns</text>
<line x1="461.80" y1="392.50" x2="480.40" y2="392.50" stroke="#1a1a1a" stroke-width="1.0"/>
<text x="471.40" y="390.00" font-size="6.7" text-anchor="middle" fill="#333" stroke="#333" stroke-width="0.12">ns</text>
<line x1="484.10" y1="392.50" x2="500.60" y2="392.50" stroke="#1a1a1a" stroke-width="1.0"/>
<text x="492.65" y="390.00" font-size="6.7" text-anchor="middle" fill="#333" stroke="#333" stroke-width="0.12">ns</text>
<text x="456.60" y="363.50" font-size="9.4" stroke="#2a2a2a" stroke-width="0.12" textLength="46.4" lengthAdjust="spacingAndGlyphs">Fibronectin</text>
<text x="413.60" y="428.60" font-size="9.6" text-anchor="middle" fill="#333" stroke="#333" stroke-width="0.12" textLength="63.6" lengthAdjust="spacingAndGlyphs" transform="rotate(-90 413.60 428.60)">Relative fibronectin</text>
<text x="425.60" y="428.60" font-size="9.6" text-anchor="middle" fill="#333" stroke="#333" stroke-width="0.12" textLength="52.0" lengthAdjust="spacingAndGlyphs" transform="rotate(-90 425.60 428.60)">levels in plasma</text>
<g transform="translate(466.00,488.10) rotate(-45)"><text x="0" y="-3.8" font-size="5" text-anchor="end" fill="#333" stroke="#333" stroke-width="0.12">WT/WT</text><text x="-17.93" y="0" font-size="7.8" text-anchor="end" fill="#333" stroke="#333" stroke-width="0.12">Fga</text></g>
<g transform="translate(485.10,488.10) rotate(-45)"><text x="0" y="-3.8" font-size="5" text-anchor="end" fill="#333" stroke="#333" stroke-width="0.12">WT/EK</text><text x="-16.84" y="0" font-size="7.8" text-anchor="end" fill="#333" stroke="#333" stroke-width="0.12">Fga</text></g>
<g transform="translate(504.70,488.10) rotate(-45)"><text x="0" y="-3.8" font-size="5" text-anchor="end" fill="#333" stroke="#333" stroke-width="0.12">EK/EK</text><text x="-15.73" y="0" font-size="7.8" text-anchor="end" fill="#333" stroke="#333" stroke-width="0.12">Fga</text></g>
<text x="8.40" y="170.85" font-size="13.5" font-weight="bold" fill="#111" stroke="#111" stroke-width="0.55">C</text>
<text x="108.00" y="207.10" font-size="9.5" stroke="#2a2a2a" stroke-width="0.12" textLength="36.5" lengthAdjust="spacingAndGlyphs">Platelets</text>
<text x="39.00" y="222.40" font-size="7.3" font-style="italic" fill="#333" stroke="#333" stroke-width="0.12">Fga</text>
<text x="51.20" y="218.80" font-size="5.0" fill="#444" textLength="15.700000000000003" lengthAdjust="spacingAndGlyphs">WT/WT</text>
<text x="104.00" y="222.40" font-size="7.3" font-style="italic" fill="#333" stroke="#333" stroke-width="0.12">Fga</text>
<text x="116.20" y="218.80" font-size="5.0" fill="#444" textLength="13.399999999999991" lengthAdjust="spacingAndGlyphs">WT/EK</text>
<text x="169.50" y="222.40" font-size="7.3" font-style="italic" fill="#333" stroke="#333" stroke-width="0.12">Fga</text>
<text x="181.70" y="218.80" font-size="5.0" fill="#444" textLength="13.200000000000017" lengthAdjust="spacingAndGlyphs">EK/EK</text>
<line x1="23.70" y1="227.40" x2="81.30" y2="227.40" stroke="#2a2a2a" stroke-width="1.2"/>
<line x1="88.00" y1="227.40" x2="145.30" y2="227.40" stroke="#2a2a2a" stroke-width="1.2"/>
<line x1="153.40" y1="227.40" x2="210.50" y2="227.40" stroke="#2a2a2a" stroke-width="1.2"/>
<rect x="19.70" y="229.70" width="195.00" height="28.40" fill="#f6f6f6" stroke="#959595" stroke-width="1.0"/>
<rect x="20.20" y="230.20" width="194.00" height="1.50" fill="#d6d6d6" stroke="none" stroke-width="0"/>
<rect x="19.90" y="262.90" width="194.80" height="17.40" fill="#f6f6f6" stroke="#959595" stroke-width="1.0"/>
<rect x="20.40" y="263.40" width="193.80" height="1.50" fill="#d6d6d6" stroke="none" stroke-width="0"/>
<rect x="19.90" y="284.80" width="194.80" height="14.40" fill="#ececec" stroke="#959595" stroke-width="1.0"/>
<rect x="20.40" y="285.30" width="193.80" height="1.50" fill="#d6d6d6" stroke="none" stroke-width="0"/>
<text x="218.90" y="248.90" font-size="7.2" textLength="34" lengthAdjust="spacingAndGlyphs">Fibrinogen</text>
<text x="218.90" y="274.40" font-size="7.2" textLength="36" lengthAdjust="spacingAndGlyphs">Fibronectin</text>
<text x="218.90" y="294.50" font-size="7.2" textLength="15.9" lengthAdjust="spacingAndGlyphs">Actin</text>
<rect x="23.60" y="247.50" width="16.10" height="7.00" fill="#e6e6e6" stroke="none" stroke-width="0" filter="url(#b2)"/>
<path d="M23.10,243.70 L40.20,243.70 L40.20,247.90 L23.10,247.90 Z" fill="#a8a8a8" fill-opacity="0.9" filter="url(#b3)"/>
<path d="M23.10,239.20 L40.20,239.20 L40.20,241.00 L23.10,241.00 Z" fill="#7c7c7c" fill-opacity="0.85" filter="url(#b3)"/>
<path d="M23.10,243.75 L40.20,243.75 L40.20,245.45 L23.10,245.45 Z" fill="#828282" fill-opacity="0.8" filter="url(#b3)"/>
<path d="M23.10,246.10 L40.20,246.10 L40.20,247.90 L23.10,247.90 Z" fill="#7c7c7c" fill-opacity="0.85" filter="url(#b3)"/>
<rect x="45.40" y="247.50" width="13.80" height="7.00" fill="#e6e6e6" stroke="none" stroke-width="0" filter="url(#b2)"/>
<path d="M44.90,243.70 L59.70,243.30 L59.70,247.50 L44.90,247.90 Z" fill="#a8a8a8" fill-opacity="0.9" filter="url(#b3)"/>
<path d="M44.90,239.10 L59.70,238.70 L59.70,240.50 L44.90,240.90 Z" fill="#7c7c7c" fill-opacity="0.85" filter="url(#b3)"/>
<path d="M44.90,243.75 L59.70,243.35 L59.70,245.05 L44.90,245.45 Z" fill="#828282" fill-opacity="0.8" filter="url(#b3)"/>
<path d="M44.90,246.10 L59.70,245.70 L59.70,247.50 L44.90,247.90 Z" fill="#7c7c7c" fill-opacity="0.85" filter="url(#b3)"/>
<rect x="64.90" y="247.10" width="15.90" height="7.00" fill="#e6e6e6" stroke="none" stroke-width="0" filter="url(#b2)"/>
<path d="M64.40,243.30 L81.30,242.30 L81.30,246.50 L64.40,247.50 Z" fill="#a8a8a8" fill-opacity="0.9" filter="url(#b3)"/>
<path d="M64.40,238.50 L81.30,237.50 L81.30,239.30 L64.40,240.30 Z" fill="#7c7c7c" fill-opacity="0.85" filter="url(#b3)"/>
<path d="M64.40,243.35 L81.30,242.35 L81.30,244.05 L64.40,245.05 Z" fill="#828282" fill-opacity="0.8" filter="url(#b3)"/>
<path d="M64.40,245.70 L81.30,244.70 L81.30,246.50 L64.40,247.50 Z" fill="#7c7c7c" fill-opacity="0.85" filter="url(#b3)"/>
<rect x="87.20" y="245.60" width="15.80" height="7.00" fill="#e6e6e6" stroke="none" stroke-width="0" filter="url(#b2)"/>
<path d="M86.70,236.90 L103.50,236.90 L103.50,245.90 L86.70,245.90 Z" fill="#c4c4c4" fill-opacity="0.9" filter="url(#b3)"/>
<path d="M86.70,236.80 L103.50,236.80 L103.50,238.60 L86.70,238.60 Z" fill="#7c7c7c" fill-opacity="0.85" filter="url(#b3)"/>
<path d="M86.70,240.85 L103.50,240.85 L103.50,242.55 L86.70,242.55 Z" fill="#828282" fill-opacity="0.8" filter="url(#b3)"/>
<path d="M86.70,244.20 L103.50,244.20 L103.50,246.00 L86.70,246.00 Z" fill="#7c7c7c" fill-opacity="0.85" filter="url(#b3)"/>
<rect x="108.70" y="246.30" width="15.80" height="7.00" fill="#e6e6e6" stroke="none" stroke-width="0" filter="url(#b2)"/>
<path d="M108.20,237.30 L125.00,237.80 L125.00,247.10 L108.20,246.60 Z" fill="#c4c4c4" fill-opacity="0.9" filter="url(#b3)"/>
<path d="M108.20,237.20 L125.00,237.70 L125.00,239.50 L108.20,239.00 Z" fill="#7c7c7c" fill-opacity="0.85" filter="url(#b3)"/>
<path d="M108.20,241.25 L125.00,241.75 L125.00,243.45 L108.20,242.95 Z" fill="#828282" fill-opacity="0.8" filter="url(#b3)"/>
<path d="M108.20,244.90 L125.00,245.40 L125.00,247.20 L108.20,246.70 Z" fill="#7c7c7c" fill-opacity="0.85" filter="url(#b3)"/>
<rect x="131.00" y="247.10" width="15.80" height="7.00" fill="#e6e6e6" stroke="none" stroke-width="0" filter="url(#b2)"/>
<path d="M130.50,238.40 L147.30,238.40 L147.30,247.40 L130.50,247.40 Z" fill="#c4c4c4" fill-opacity="0.9" filter="url(#b3)"/>
<path d="M130.50,238.30 L147.30,238.30 L147.30,240.10 L130.50,240.10 Z" fill="#7c7c7c" fill-opacity="0.85" filter="url(#b3)"/>
<path d="M130.50,242.35 L147.30,242.35 L147.30,244.05 L130.50,244.05 Z" fill="#828282" fill-opacity="0.8" filter="url(#b3)"/>
<path d="M130.50,245.70 L147.30,245.70 L147.30,247.50 L130.50,247.50 Z" fill="#7c7c7c" fill-opacity="0.85" filter="url(#b3)"/>
<rect x="152.50" y="247.10" width="15.90" height="7.00" fill="#e6e6e6" stroke="none" stroke-width="0" filter="url(#b2)"/>
<path d="M152.00,242.60 L168.90,242.60 L168.90,247.50 L152.00,247.50 Z" fill="#a8a8a8" fill-opacity="0.9" filter="url(#b3)"/>
<path d="M152.00,238.50 L168.90,238.50 L168.90,240.30 L152.00,240.30 Z" fill="#7c7c7c" fill-opacity="0.85" filter="url(#b3)"/>
<path d="M152.00,242.65 L168.90,242.65 L168.90,244.35 L152.00,244.35 Z" fill="#828282" fill-opacity="0.8" filter="url(#b3)"/>
<path d="M152.00,245.70 L168.90,245.70 L168.90,247.50 L152.00,247.50 Z" fill="#7c7c7c" fill-opacity="0.85" filter="url(#b3)"/>
<rect x="174.10" y="248.00" width="14.40" height="7.00" fill="#e6e6e6" stroke="none" stroke-width="0" filter="url(#b2)"/>
<path d="M173.60,243.00 L189.00,243.00 L189.00,248.40 L173.60,248.40 Z" fill="#a8a8a8" fill-opacity="0.9" filter="url(#b3)"/>
<path d="M173.60,238.50 L189.00,238.50 L189.00,240.30 L173.60,240.30 Z" fill="#7c7c7c" fill-opacity="0.85" filter="url(#b3)"/>
<path d="M173.60,243.05 L189.00,243.05 L189.00,244.75 L173.60,244.75 Z" fill="#828282" fill-opacity="0.8" filter="url(#b3)"/>
<path d="M173.60,246.60 L189.00,246.60 L189.00,248.40 L173.60,248.40 Z" fill="#7c7c7c" fill-opacity="0.85" filter="url(#b3)"/>
<rect x="194.90" y="248.40" width="15.90" height="7.00" fill="#e6e6e6" stroke="none" stroke-width="0" filter="url(#b2)"/>
<path d="M194.40,243.90 L211.30,243.30 L211.30,248.20 L194.40,248.80 Z" fill="#a8a8a8" fill-opacity="0.9" filter="url(#b3)"/>
<path d="M194.40,239.50 L211.30,238.90 L211.30,240.70 L194.40,241.30 Z" fill="#7c7c7c" fill-opacity="0.85" filter="url(#b3)"/>
<path d="M194.40,243.95 L211.30,243.35 L211.30,245.05 L194.40,245.65 Z" fill="#828282" fill-opacity="0.8" filter="url(#b3)"/>
<path d="M194.40,247.00 L211.30,246.40 L211.30,248.20 L194.40,248.80 Z" fill="#7c7c7c" fill-opacity="0.85" filter="url(#b3)"/>
<path d="M24.10,272.55 L39.20,274.15 L39.20,275.45 L24.10,273.85 Z" fill="#7c7c7c" fill-opacity="0.8" filter="url(#b3)"/>
<path d="M45.90,272.95 L58.70,272.65 L58.70,273.95 L45.90,274.25 Z" fill="#7c7c7c" fill-opacity="0.8" filter="url(#b3)"/>
<path d="M65.40,272.95 L80.30,272.65 L80.30,273.95 L65.40,274.25 Z" fill="#7c7c7c" fill-opacity="0.8" filter="url(#b3)"/>
<path d="M87.70,273.15 L102.50,272.85 L102.50,274.15 L87.70,274.45 Z" fill="#7c7c7c" fill-opacity="0.8" filter="url(#b3)"/>
<path d="M109.20,272.75 L124.00,272.45 L124.00,273.75 L109.20,274.05 Z" fill="#7c7c7c" fill-opacity="0.8" filter="url(#b3)"/>
<path d="M131.50,272.55 L146.30,272.25 L146.30,273.55 L131.50,273.85 Z" fill="#7c7c7c" fill-opacity="0.8" filter="url(#b3)"/>
<path d="M153.00,272.55 L167.90,272.25 L167.90,273.55 L153.00,273.85 Z" fill="#7c7c7c" fill-opacity="0.8" filter="url(#b3)"/>
<path d="M174.60,272.15 L188.00,271.85 L188.00,273.15 L174.60,273.45 Z" fill="#7c7c7c" fill-opacity="0.8" filter="url(#b3)"/>
<path d="M195.40,270.85 L210.30,268.65 L210.30,269.95 L195.40,272.15 Z" fill="#7c7c7c" fill-opacity="0.8" filter="url(#b3)"/>
<path d="M23.60,289.80 L39.70,289.80 L39.70,292.20 L23.60,292.20 Z" fill="#a8a8a8" fill-opacity="0.75" filter="url(#b3)"/>
<path d="M45.40,289.60 L59.20,289.60 L59.20,292.00 L45.40,292.00 Z" fill="#a8a8a8" fill-opacity="0.75" filter="url(#b3)"/>
<path d="M64.90,289.20 L80.80,289.20 L80.80,291.60 L64.90,291.60 Z" fill="#a8a8a8" fill-opacity="0.75" filter="url(#b3)"/>
<path d="M87.20,288.40 L103.00,288.40 L103.00,290.80 L87.20,290.80 Z" fill="#a8a8a8" fill-opacity="0.75" filter="url(#b3)"/>
<path d="M108.70,288.70 L124.50,288.70 L124.50,291.10 L108.70,291.10 Z" fill="#a8a8a8" fill-opacity="0.75" filter="url(#b3)"/>
<path d="M131.00,289.60 L146.80,289.60 L146.80,292.00 L131.00,292.00 Z" fill="#a8a8a8" fill-opacity="0.75" filter="url(#b3)"/>
<path d="M152.50,290.00 L168.40,290.00 L168.40,292.40 L152.50,292.40 Z" fill="#a8a8a8" fill-opacity="0.75" filter="url(#b3)"/>
<path d="M174.10,290.40 L188.50,290.40 L188.50,292.80 L174.10,292.80 Z" fill="#a8a8a8" fill-opacity="0.75" filter="url(#b3)"/>
<path d="M194.90,290.80 L210.80,290.80 L210.80,293.20 L194.90,293.20 Z" fill="#a8a8a8" fill-opacity="0.75" filter="url(#b3)"/>
<text x="8.40" y="350.35" font-size="13.5" font-weight="bold" fill="#111" stroke="#111" stroke-width="0.55">F</text>
<text x="110.80" y="389.80" font-size="9.5" stroke="#2a2a2a" stroke-width="0.12" textLength="29.6" lengthAdjust="spacingAndGlyphs">Plasma</text>
<text x="37.70" y="404.80" font-size="7.3" font-style="italic" fill="#333" stroke="#333" stroke-width="0.12">Fga</text>
<text x="49.90" y="401.20" font-size="5.0" fill="#444" textLength="16.599999999999994" lengthAdjust="spacingAndGlyphs">WT/WT</text>
<text x="102.70" y="404.80" font-size="7.3" font-style="italic" fill="#333" stroke="#333" stroke-width="0.12">Fga</text>
<text x="114.90" y="401.20" font-size="5.0" fill="#444" textLength="14.699999999999989" lengthAdjust="spacingAndGlyphs">WT/EK</text>
<text x="167.90" y="404.80" font-size="7.3" font-style="italic" fill="#333" stroke="#333" stroke-width="0.12">Fga</text>
<text x="180.10" y="401.20" font-size="5.0" fill="#444" textLength="14.200000000000017" lengthAdjust="spacingAndGlyphs">EK/EK</text>
<line x1="22.70" y1="409.60" x2="80.40" y2="409.60" stroke="#555" stroke-width="1.6"/>
<line x1="87.10" y1="409.60" x2="144.50" y2="409.60" stroke="#555" stroke-width="1.6"/>
<line x1="151.80" y1="409.60" x2="209.20" y2="409.60" stroke="#555" stroke-width="1.6"/>
<rect x="18.40" y="412.30" width="195.10" height="30.30" fill="#f6f6f6" stroke="#959595" stroke-width="1.0"/>
<rect x="18.90" y="412.80" width="194.10" height="1.50" fill="#d6d6d6" stroke="none" stroke-width="0"/>
<rect x="18.40" y="445.80" width="195.10" height="18.80" fill="#f6f6f6" stroke="#959595" stroke-width="1.0"/>
<rect x="18.90" y="446.30" width="194.10" height="1.50" fill="#d6d6d6" stroke="none" stroke-width="0"/>
<rect x="18.40" y="466.10" width="195.10" height="18.50" fill="#d9d9d9" stroke="#959595" stroke-width="1.0"/>
<rect x="18.90" y="466.60" width="194.10" height="1.50" fill="#d6d6d6" stroke="none" stroke-width="0"/>
<text x="217.80" y="432.00" font-size="7.2" textLength="34" lengthAdjust="spacingAndGlyphs">Fibrinogen</text>
<text x="217.80" y="457.50" font-size="7.2" textLength="36" lengthAdjust="spacingAndGlyphs">Fibronectin</text>
<text x="217.80" y="478.40" font-size="7.2" textLength="26" lengthAdjust="spacingAndGlyphs">Albumin</text>
<rect x="21.90" y="431.60" width="15.80" height="9.00" fill="#e4e4e4" stroke="none" stroke-width="0" filter="url(#b2)"/>
<path d="M21.40,422.70 L38.20,423.20 L38.20,432.40 L21.40,431.90 Z" fill="#d2d2d2" fill-opacity="0.9" filter="url(#b3)"/>
<path d="M21.40,422.60 L38.20,423.10 L38.20,424.90 L21.40,424.40 Z" fill="#787878" fill-opacity="0.85" filter="url(#b3)"/>
<path d="M21.40,426.75 L38.20,427.25 L38.20,428.75 L21.40,428.25 Z" fill="#ababab" fill-opacity="0.8" filter="url(#b3)"/>
<path d="M21.40,430.10 L38.20,430.60 L38.20,432.60 L21.40,432.10 Z" fill="#6c6c6c" fill-opacity="0.9" filter="url(#b3)"/>
<rect x="43.40" y="431.00" width="15.20" height="9.00" fill="#e4e4e4" stroke="none" stroke-width="0" filter="url(#b2)"/>
<path d="M42.90,422.20 L59.10,421.40 L59.10,430.50 L42.90,431.30 Z" fill="#d2d2d2" fill-opacity="0.9" filter="url(#b3)"/>
<path d="M42.90,422.10 L59.10,421.30 L59.10,423.10 L42.90,423.90 Z" fill="#787878" fill-opacity="0.85" filter="url(#b3)"/>
<path d="M42.90,426.05 L59.10,425.25 L59.10,426.75 L42.90,427.55 Z" fill="#ababab" fill-opacity="0.8" filter="url(#b3)"/>
<path d="M42.90,429.50 L59.10,428.70 L59.10,430.70 L42.90,431.50 Z" fill="#6c6c6c" fill-opacity="0.9" filter="url(#b3)"/>
<rect x="64.30" y="429.30" width="15.10" height="9.00" fill="#e4e4e4" stroke="none" stroke-width="0" filter="url(#b2)"/>
<path d="M63.80,421.00 L79.90,420.00 L79.90,428.60 L63.80,429.60 Z" fill="#d2d2d2" fill-opacity="0.9" filter="url(#b3)"/>
<path d="M63.80,420.90 L79.90,419.90 L79.90,421.70 L63.80,422.70 Z" fill="#787878" fill-opacity="0.85" filter="url(#b3)"/>
<path d="M63.80,424.75 L79.90,423.75 L79.90,425.25 L63.80,426.25 Z" fill="#ababab" fill-opacity="0.8" filter="url(#b3)"/>
<path d="M63.80,427.80 L79.90,426.80 L79.90,428.80 L63.80,429.80 Z" fill="#6c6c6c" fill-opacity="0.9" filter="url(#b3)"/>
<rect x="85.90" y="428.00" width="16.50" height="9.00" fill="#e4e4e4" stroke="none" stroke-width="0" filter="url(#b2)"/>
<path d="M85.40,419.70 L102.90,419.10 L102.90,427.70 L85.40,428.30 Z" fill="#d2d2d2" fill-opacity="0.9" filter="url(#b3)"/>
<path d="M85.40,419.60 L102.90,419.00 L102.90,420.80 L85.40,421.40 Z" fill="#787878" fill-opacity="0.85" filter="url(#b3)"/>
<path d="M85.40,423.35 L102.90,422.75 L102.90,424.25 L85.40,424.85 Z" fill="#ababab" fill-opacity="0.8" filter="url(#b3)"/>
<path d="M85.40,426.50 L102.90,425.90 L102.90,427.90 L85.40,428.50 Z" fill="#6c6c6c" fill-opacity="0.9" filter="url(#b3)"/>
<rect x="108.10" y="428.00" width="15.80" height="9.00" fill="#e4e4e4" stroke="none" stroke-width="0" filter="url(#b2)"/>
<path d="M107.60,420.00 L124.40,420.30 L124.40,428.60 L107.60,428.30 Z" fill="#d2d2d2" fill-opacity="0.9" filter="url(#b3)"/>
<path d="M107.60,419.90 L124.40,420.20 L124.40,422.00 L107.60,421.70 Z" fill="#787878" fill-opacity="0.85" filter="url(#b3)"/>
<path d="M107.60,423.35 L124.40,423.65 L124.40,425.15 L107.60,424.85 Z" fill="#ababab" fill-opacity="0.8" filter="url(#b3)"/>
<path d="M107.60,426.50 L124.40,426.80 L124.40,428.80 L107.60,428.50 Z" fill="#6c6c6c" fill-opacity="0.9" filter="url(#b3)"/>
<rect x="130.30" y="429.30" width="15.80" height="9.00" fill="#e4e4e4" stroke="none" stroke-width="0" filter="url(#b2)"/>
<path d="M129.80,419.30 L146.60,419.80 L146.60,430.10 L129.80,429.60 Z" fill="#d2d2d2" fill-opacity="0.9" filter="url(#b3)"/>
<path d="M129.80,419.20 L146.60,419.70 L146.60,421.50 L129.80,421.00 Z" fill="#787878" fill-opacity="0.85" filter="url(#b3)"/>
<path d="M129.80,423.35 L146.60,423.85 L146.60,425.35 L129.80,424.85 Z" fill="#ababab" fill-opacity="0.8" filter="url(#b3)"/>
<path d="M129.80,427.80 L146.60,428.30 L146.60,430.30 L129.80,429.80 Z" fill="#6c6c6c" fill-opacity="0.9" filter="url(#b3)"/>
<rect x="151.60" y="430.70" width="15.40" height="9.00" fill="#e4e4e4" stroke="none" stroke-width="0" filter="url(#b2)"/>
<path d="M151.10,421.00 L167.50,421.60 L167.50,431.60 L151.10,431.00 Z" fill="#d2d2d2" fill-opacity="0.9" filter="url(#b3)"/>
<path d="M151.10,420.90 L167.50,421.50 L167.50,423.30 L151.10,422.70 Z" fill="#787878" fill-opacity="0.85" filter="url(#b3)"/>
<path d="M151.10,425.15 L167.50,425.75 L167.50,427.25 L151.10,426.65 Z" fill="#ababab" fill-opacity="0.8" filter="url(#b3)"/>
<path d="M151.10,429.20 L167.50,429.80 L167.50,431.80 L151.10,431.20 Z" fill="#6c6c6c" fill-opacity="0.9" filter="url(#b3)"/>
<rect x="172.70" y="432.00" width="15.90" height="9.00" fill="#e4e4e4" stroke="none" stroke-width="0" filter="url(#b2)"/>
<path d="M172.20,422.70 L189.10,423.30 L189.10,432.90 L172.20,432.30 Z" fill="#d2d2d2" fill-opacity="0.9" filter="url(#b3)"/>
<path d="M172.20,422.60 L189.10,423.20 L189.10,425.00 L172.20,424.40 Z" fill="#787878" fill-opacity="0.85" filter="url(#b3)"/>
<path d="M172.20,426.45 L189.10,427.05 L189.10,428.55 L172.20,427.95 Z" fill="#ababab" fill-opacity="0.8" filter="url(#b3)"/>
<path d="M172.20,430.50 L189.10,431.10 L189.10,433.10 L172.20,432.50 Z" fill="#6c6c6c" fill-opacity="0.9" filter="url(#b3)"/>
<rect x="193.60" y="434.10" width="15.20" height="9.00" fill="#e4e4e4" stroke="none" stroke-width="0" filter="url(#b2)"/>
<path d="M193.10,424.30 L209.30,423.70 L209.30,433.80 L193.10,434.40 Z" fill="#d2d2d2" fill-opacity="0.9" filter="url(#b3)"/>
<path d="M193.10,424.20 L209.30,423.60 L209.30,425.40 L193.10,426.00 Z" fill="#787878" fill-opacity="0.85" filter="url(#b3)"/>
<path d="M193.10,427.85 L209.30,427.25 L209.30,428.75 L193.10,429.35 Z" fill="#ababab" fill-opacity="0.8" filter="url(#b3)"/>
<path d="M193.10,432.60 L209.30,432.00 L209.30,434.00 L193.10,434.60 Z" fill="#6c6c6c" fill-opacity="0.9" filter="url(#b3)"/>
<path d="M22.40,452.50 L37.20,452.50 L37.20,455.50 L22.40,455.50 Z" fill="#4a4a4a" fill-opacity="0.95" filter="url(#b3)"/>
<path d="M43.90,453.40 L58.10,453.40 L58.10,456.60 L43.90,456.60 Z" fill="#404040" fill-opacity="0.95" filter="url(#b3)"/>
<path d="M64.80,453.70 L78.90,453.70 L78.90,457.30 L64.80,457.30 Z" fill="#2c2c2c" fill-opacity="0.95" filter="url(#b3)"/>
<path d="M86.40,452.40 L101.90,452.40 L101.90,455.80 L86.40,455.80 Z" fill="#262626" fill-opacity="0.95" filter="url(#b3)"/>
<path d="M108.60,452.60 L123.40,452.60 L123.40,456.40 L108.60,456.40 Z" fill="#141414" fill-opacity="0.95" filter="url(#b3)"/>
<path d="M130.80,453.50 L145.60,453.50 L145.60,456.70 L130.80,456.70 Z" fill="#505050" fill-opacity="0.95" filter="url(#b3)"/>
<path d="M152.10,453.30 L166.50,453.30 L166.50,456.90 L152.10,456.90 Z" fill="#2a2a2a" fill-opacity="0.95" filter="url(#b3)"/>
<path d="M173.20,452.70 L188.10,452.70 L188.10,456.30 L173.20,456.30 Z" fill="#222222" fill-opacity="0.95" filter="url(#b3)"/>
<path d="M194.10,452.00 L208.30,452.00 L208.30,455.00 L194.10,455.00 Z" fill="#606060" fill-opacity="0.95" filter="url(#b3)"/>
<path d="M22.40,476.50 L37.20,476.50 L37.20,480.10 L22.40,480.10 Z" fill="#9c9c9c" fill-opacity="0.85" filter="url(#b2)"/>
<path d="M43.90,475.20 L58.10,475.20 L58.10,478.80 L43.90,478.80 Z" fill="#9c9c9c" fill-opacity="0.85" filter="url(#b2)"/>
<path d="M64.80,474.00 L78.90,474.00 L78.90,477.60 L64.80,477.60 Z" fill="#9c9c9c" fill-opacity="0.85" filter="url(#b2)"/>
<path d="M86.40,473.10 L101.90,473.10 L101.90,476.70 L86.40,476.70 Z" fill="#9c9c9c" fill-opacity="0.85" filter="url(#b2)"/>
<path d="M108.60,472.50 L123.40,472.50 L123.40,476.10 L108.60,476.10 Z" fill="#9c9c9c" fill-opacity="0.85" filter="url(#b2)"/>
<path d="M130.80,472.00 L145.60,472.00 L145.60,475.60 L130.80,475.60 Z" fill="#9c9c9c" fill-opacity="0.85" filter="url(#b2)"/>
<path d="M152.10,473.70 L166.50,473.70 L166.50,477.30 L152.10,477.30 Z" fill="#9c9c9c" fill-opacity="0.85" filter="url(#b2)"/>
<path d="M173.20,475.00 L188.10,475.00 L188.10,478.60 L173.20,478.60 Z" fill="#9c9c9c" fill-opacity="0.85" filter="url(#b2)"/>
<path d="M194.10,475.80 L208.30,475.80 L208.30,479.40 L194.10,479.40 Z" fill="#9c9c9c" fill-opacity="0.85" filter="url(#b2)"/>
<rect x="0.5" y="0.5" width="519" height="517" fill="none" stroke="#4a4a4a" stroke-width="1"/>
</svg>
</body></html>
